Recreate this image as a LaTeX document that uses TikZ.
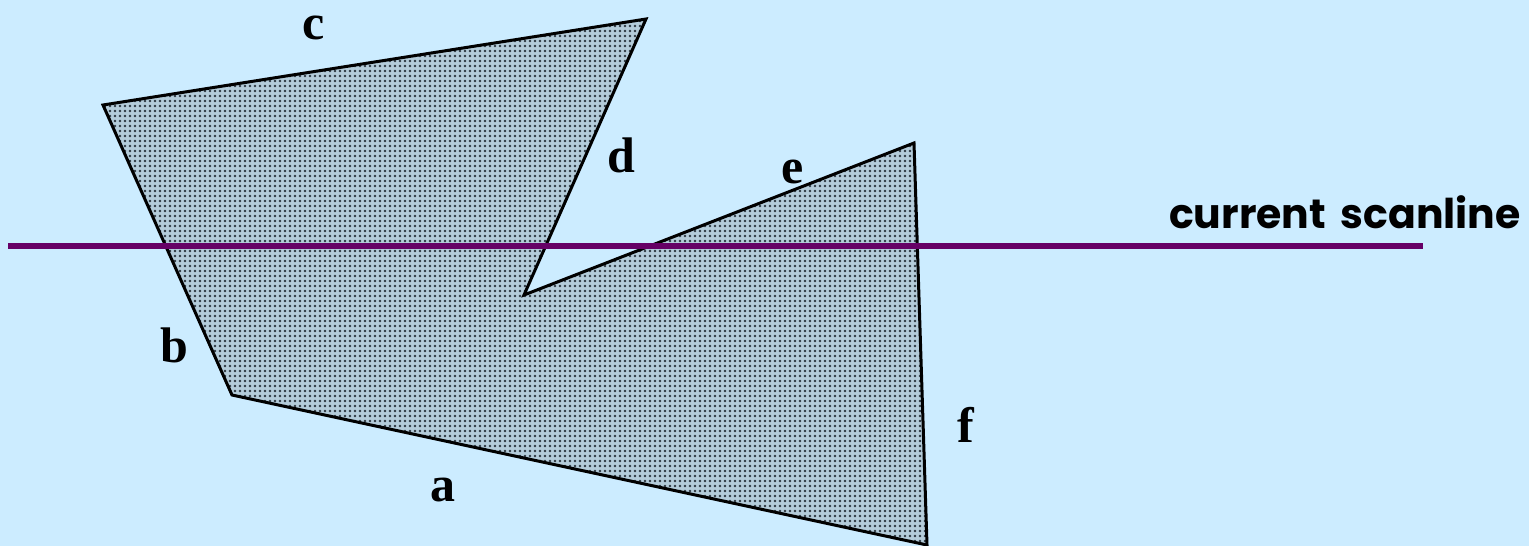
\documentclass[tikz,border=0pt]{standalone}
\usepackage{fontspec}
\setmainfont{Liberation Serif}
\newfontfamily\comicfont{Poppins}
\usetikzlibrary{patterns.meta}
\definecolor{bgblue}{RGB}{204,236,255}
\definecolor{scanpurple}{RGB}{102,0,102}
\definecolor{dotbase}{RGB}{180,204,218}
\definecolor{dotcol}{RGB}{45,55,65}
\tikzdeclarepattern{
  name=fdots,
  type=uncolored,
  bottom left={(-2.5pt,-2.5pt)},
  top right={(2.5pt,2.5pt)},
  tile size={(5pt,5pt)},
  code={\pgfpathcircle{\pgfpointorigin}{1.4pt}\pgfusepath{fill}}
}
\tikzset{
  edgelabel/.style={font=\fontsize{50}{56}\selectfont\bfseries, inner sep=0pt},
  scantext/.style={font=\fontsize{41}{47}\selectfont\comicfont\bfseries, inner sep=0pt, anchor=east},
}
\begin{document}
\begin{tikzpicture}[x=1pt,y=-1pt]
\fill[bgblue] (0,0) rectangle (1529,546);
\useasboundingbox (0,0) rectangle (1529,546);
\coordinate (P1) at (103,105);
\coordinate (P2) at (646,19);
\coordinate (P3) at (524,295);
\coordinate (P4) at (914,143);
\coordinate (P5) at (927,545);
\coordinate (P6) at (232,395);
\fill[dotbase] (P1) -- (P2) -- (P3) -- (P4) -- (P5) -- (P6) -- cycle;
\fill[pattern=fdots, pattern color=dotcol] (P1) -- (P2) -- (P3) -- (P4) -- (P5) -- (P6) -- cycle;
\draw[line width=3pt, line join=miter] (P1) -- (P2) -- (P3) -- (P4) -- (P5) -- (P6) -- cycle;
\coordinate (S1) at (8,246);
\coordinate (S2) at (1423,246);
\draw[scanpurple, line width=6pt] (S1) -- (S2);
\node[scantext] (st) at (1521,212) {current\hspace{0.35em}scanline};
\node[edgelabel] (lc) at (314,28) {c};
\node[edgelabel] (ld) at (621,155) {d};
\node[edgelabel] (le) at (793,172) {e};
\node[edgelabel] (lb) at (174,345) {b};
\node[edgelabel] (lf) at (966,425) {f};
\node[edgelabel] (la) at (443,490) {a};
\end{tikzpicture}
\end{document}
